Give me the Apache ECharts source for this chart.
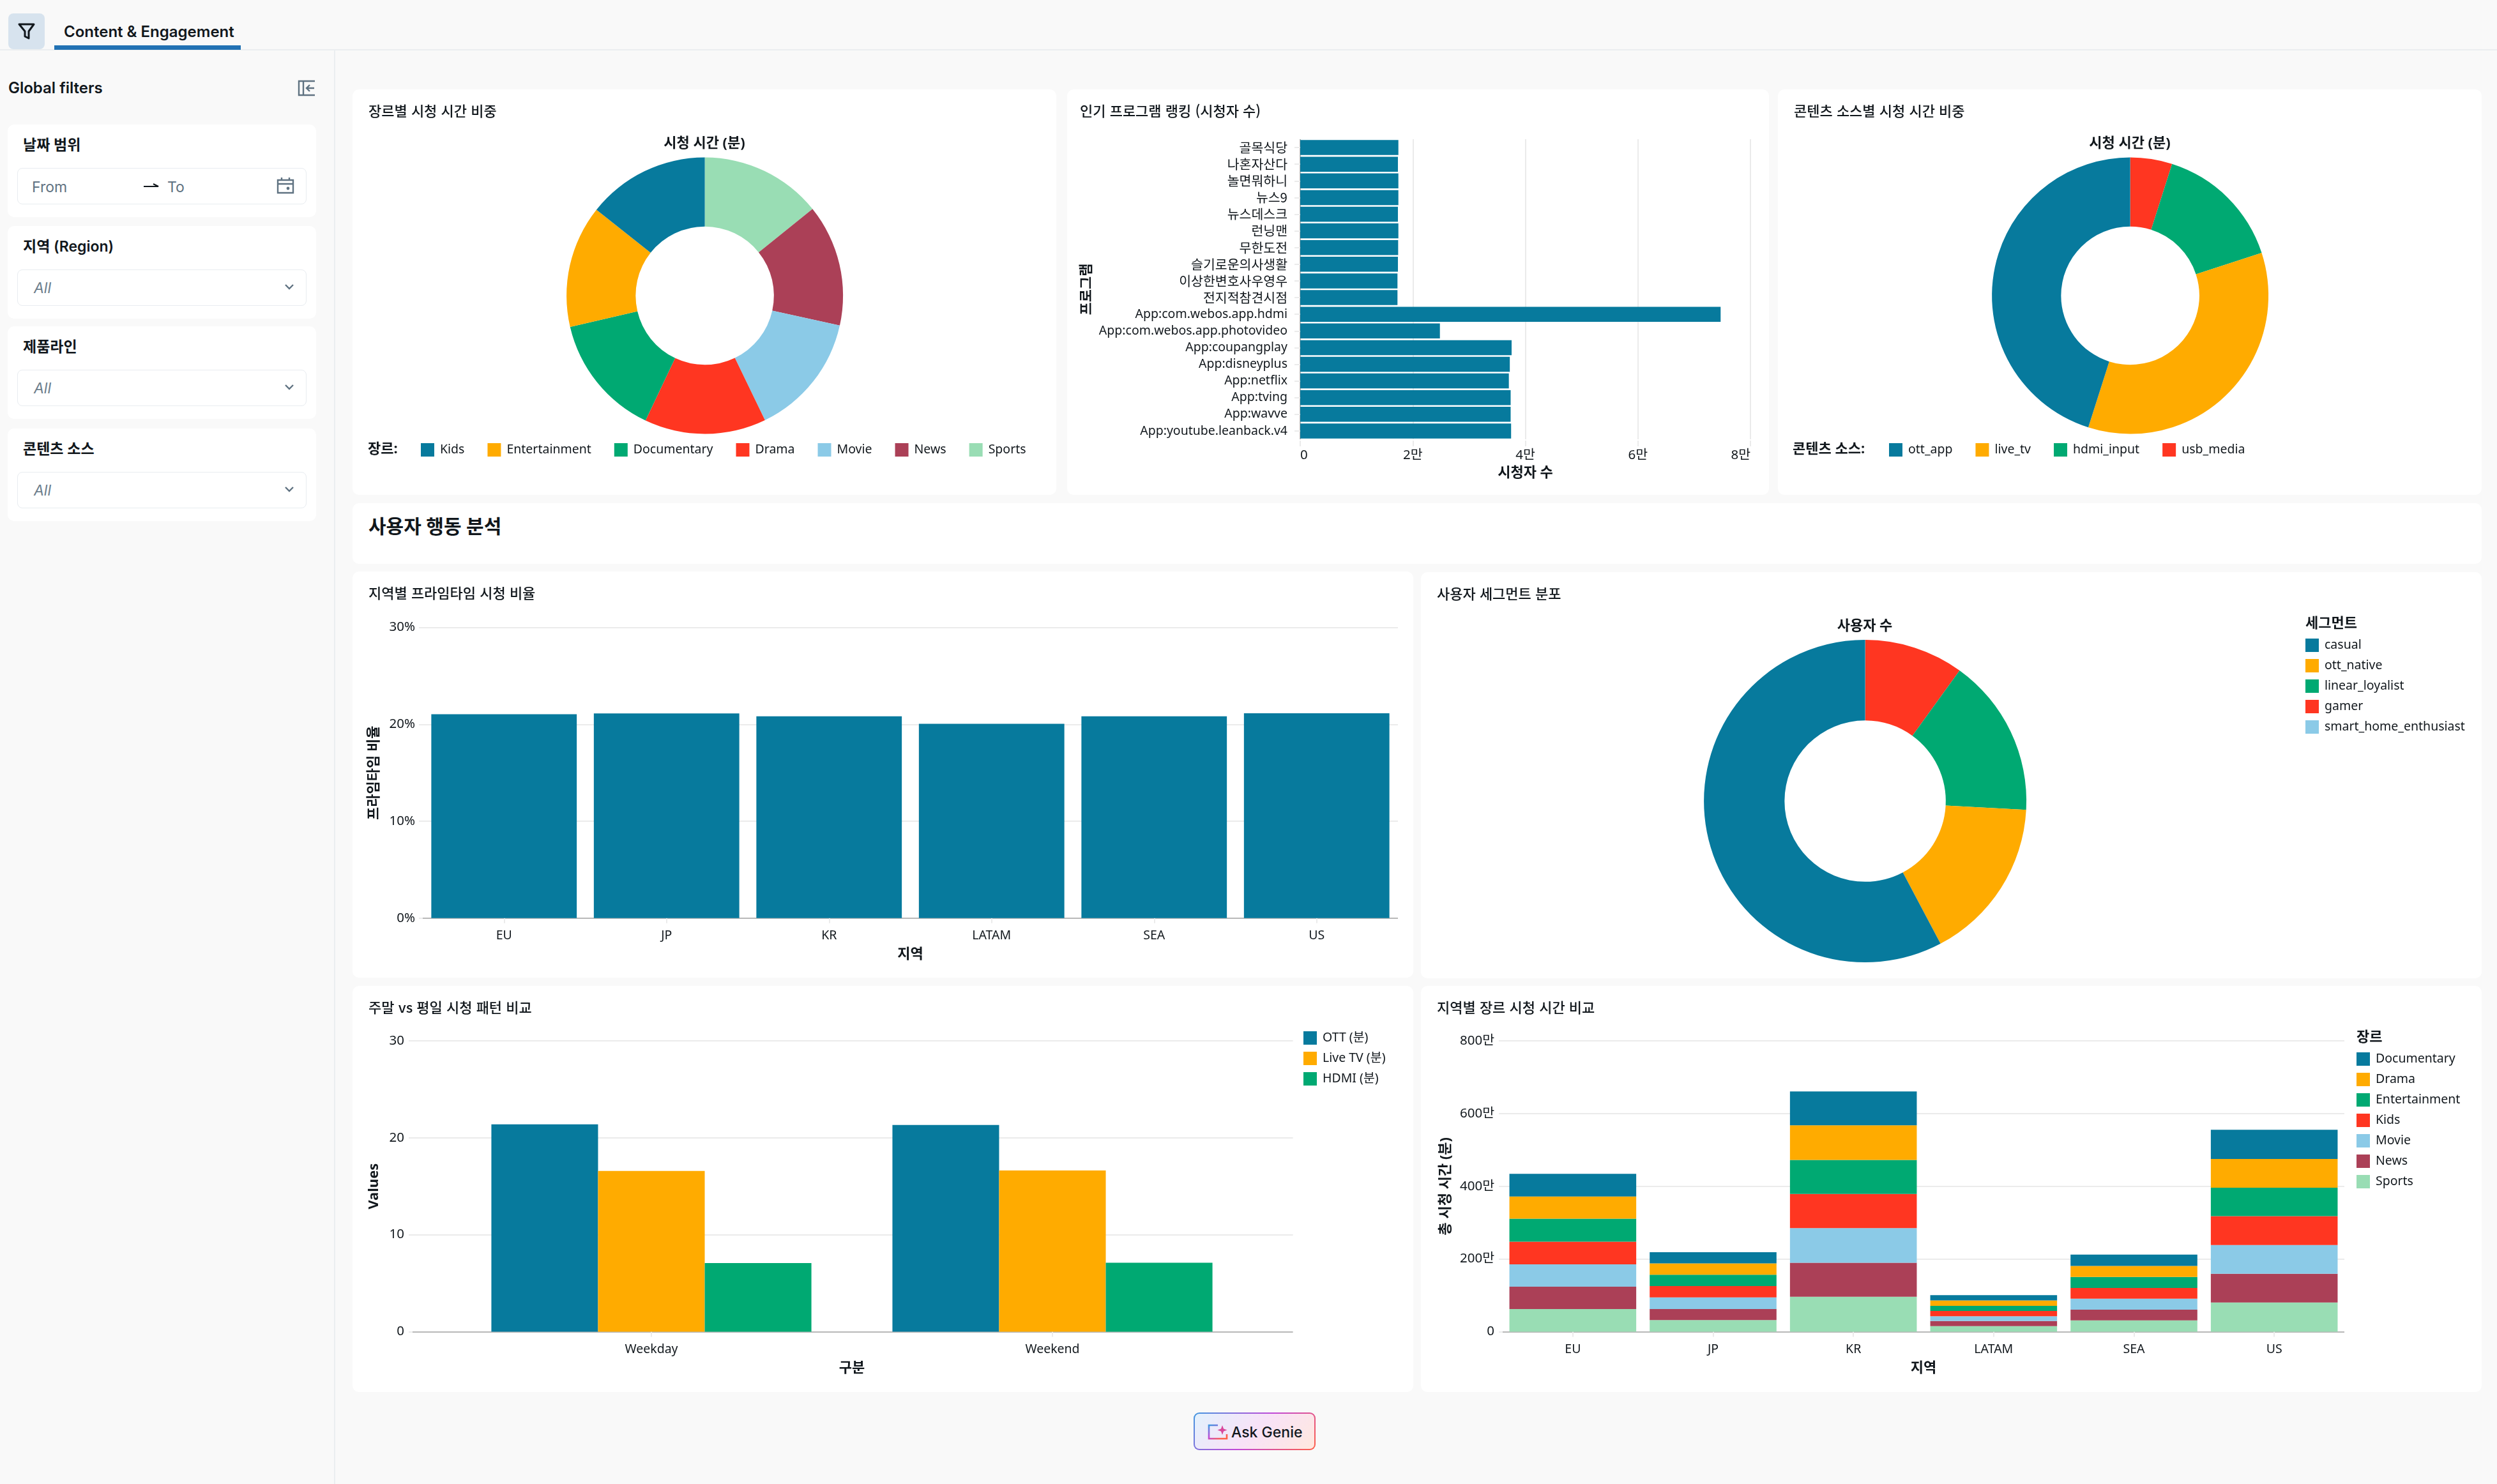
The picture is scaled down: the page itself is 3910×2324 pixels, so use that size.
<!DOCTYPE html>
<html lang="ko">
<head>
<meta charset="utf-8">
<title>Content &amp; Engagement</title>
<script src="https://cdn.jsdelivr.net/npm/echarts@6/dist/echarts.min.js"></script>
<style>
  html, body { margin: 0; padding: 0; width: 3910px; height: 2324px; overflow: hidden; background: #f9f9f9; }
  body, .abs { font-family: Inter, "Noto Sans CJK KR", sans-serif; color: #11171c; }
  .abs { position: absolute; box-sizing: border-box; }
  .card { background: #fff; border-radius: 10px; }
  .card-title { position: absolute; left: 25px; top: 16px; font-size: 22px; font-weight: 500; line-height: 32px; white-space: nowrap; font-family: "Noto Sans CJK KR", "Noto Sans", sans-serif; }
  .chart { position: absolute; left: 0; top: 0; width: 100%; height: 100%; }
  .filter { background: #fff; border-radius: 10px; left: 12px; width: 483px; height: 145px; }
  .filter-label { position: absolute; left: 24px; top: 16px; font-size: 23px; font-weight: 600; line-height: 32px; white-space: nowrap; }
  .filter-input { position: absolute; left: 15px; top: 68px; width: 453px; height: 57px; border: 1.5px solid #e8ecf0; border-radius: 8px; box-sizing: border-box; }
  .all { position: absolute; left: 25px; top: 13px; font-size: 23px; font-style: italic; color: #6b7d8b; line-height: 30px; }
  .chev { position: absolute; right: 18px; top: 20px; }
</style>
</head>
<body>
<div class="abs" style="left:0;top:77px;width:3910px;height:2px;background:#ebeef0"></div>
<div class="abs" style="left:523px;top:78px;width:2px;height:2246px;background:#ebeef0"></div>
<div class="abs" style="left:13px;top:21px;width:57px;height:56px;background:#d7e3ee;border-radius:8px">
  <svg width="57" height="56" viewBox="0 0 57 56"><path d="M17 17 H40 L32 28 V39 L26 36 V28 Z" fill="none" stroke="#11171c" stroke-width="3" stroke-linejoin="round"/></svg>
</div>
<div class="abs" style="left:100px;top:34px;font-size:24px;font-weight:600;line-height:32px;white-space:nowrap">Content &amp; Engagement</div>
<div class="abs" style="left:85px;top:71px;width:292px;height:7px;background:#2272b4"></div>
<div class="abs" style="left:13px;top:122px;font-size:24px;font-weight:600;line-height:32px;white-space:nowrap">Global filters</div>
<svg class="abs" style="left:466px;top:124px" width="28" height="28" viewBox="0 0 28 28"><path d="M27 3 H2 V25 H27 M9 3 V25 M26 14 H14 M19 9 L14 14 L19 19" fill="none" stroke="#5f7281" stroke-width="2.4"/></svg>

<div class="abs filter" style="top:195px">
  <div class="filter-label">날짜 범위</div>
  <div class="filter-input">
    <span class="abs" style="left:22px;top:14px;font-size:23px;line-height:30px;color:#5f7281">From</span>
    <svg class="abs" style="left:196px;top:18px" width="26" height="16" viewBox="0 0 26 16"><path d="M1 10 H24 L16 6" fill="none" stroke="#11171c" stroke-width="2"/></svg>
    <span class="abs" style="left:234px;top:14px;font-size:23px;line-height:30px;color:#5f7281">To</span>
    <svg class="abs" style="left:405px;top:12px" width="28" height="28" viewBox="0 0 28 28"><path d="M2 6 H26 V26 H2 Z M2 12 H26 M8 2 V6 M20 2 V6" fill="none" stroke="#5f7281" stroke-width="2.4"/><circle cx="18" cy="19" r="2.4" fill="#5f7281"/></svg>
  </div>
</div>
<div class="abs filter" style="top:354px">
  <div class="filter-label">지역 (Region)</div>
  <div class="filter-input"><span class="all">All</span><svg class="chev" width="16" height="12" viewBox="0 0 16 12"><path d="M2 3 L8 9 L14 3" fill="none" stroke="#5f7281" stroke-width="2.4"/></svg></div>
</div>
<div class="abs filter" style="top:511px">
  <div class="filter-label">제품라인</div>
  <div class="filter-input"><span class="all">All</span><svg class="chev" width="16" height="12" viewBox="0 0 16 12"><path d="M2 3 L8 9 L14 3" fill="none" stroke="#5f7281" stroke-width="2.4"/></svg></div>
</div>
<div class="abs filter" style="top:671px">
  <div class="filter-label">콘텐츠 소스</div>
  <div class="filter-input"><span class="all">All</span><svg class="chev" width="16" height="12" viewBox="0 0 16 12"><path d="M2 3 L8 9 L14 3" fill="none" stroke="#5f7281" stroke-width="2.4"/></svg></div>
</div>

<div class="abs card" style="left:552px;top:788px;width:3334px;height:95px">
  <div class="abs" style="left:25px;top:16px;font-size:30px;font-weight:600;line-height:40px;white-space:nowrap">사용자 행동 분석</div>
</div>

<div class="abs" style="left:1869px;top:2212px;width:191px;height:59px;border-radius:9px;padding:2px;background:linear-gradient(135deg,#4299e0 0%,#c048d8 50%,#ff5f46 100%)">
  <div style="width:100%;height:100%;border-radius:7px;background:linear-gradient(135deg,#e2f1fd 0%,#f8e2f7 50%,#ffe8de 100%);position:relative">
    <svg class="abs" style="left:20px;top:16px" width="34" height="28" viewBox="0 0 34 28">
      <defs><linearGradient id="genieFrame" x1="0" y1="0" x2="0.7" y2="1"><stop offset="0" stop-color="#4299e0"/><stop offset="0.6" stop-color="#c048d8"/><stop offset="1" stop-color="#ff5f46"/></linearGradient></defs>
      <path d="M16 2 H2 V23 H30 V16" fill="none" stroke="url(#genieFrame)" stroke-width="2.6"/>
      <path d="M23 2 L25 7.500 L30.500 9.500 L25 11.500 L23 17 L21 11.500 L15.500 9.500 L21 7.500 Z" fill="#d8479c"/>
    </svg>
    <span class="abs" style="left:57px;top:14px;font-size:23px;font-weight:500;line-height:30px;white-space:nowrap">Ask Genie</span>
  </div>
</div>

<script>
// 장르별 시청 시간 비중 (share of watch time, %)
const genreLegend = ['Kids', 'Entertainment', 'Documentary', 'Drama', 'Movie', 'News', 'Sports'];
const genreShareNames = ['Sports', 'News', 'Movie', 'Drama', 'Documentary', 'Entertainment', 'Kids'];
const genreShareValues = [14.22, 14.25, 14.36, 14.22, 14.31, 14.31, 14.33];
const genreShareColors = ['#99ddb4', '#ab4057', '#8bcae7', '#ff3621', '#00a972', '#ffab00', '#077a9d'];

// 인기 프로그램 랭킹 (viewers)
const programNames = ['골목식당', '나혼자산다', '놀면뭐하니', '뉴스9', '뉴스데스크', '런닝맨', '무한도전', '슬기로운의사생활',
  '이상한변호사우영우', '전지적참견시점', 'App:com.webos.app.hdmi', 'App:com.webos.app.photovideo', 'App:coupangplay',
  'App:disneyplus', 'App:netflix', 'App:tving', 'App:wavve', 'App:youtube.leanback.v4'];
const programViewers = [17440, 17360, 17440, 17440, 17360, 17440, 17400, 17360, 17280, 17280,
  74700, 24820, 37560, 37240, 37070, 37390, 37390, 37470];

// 콘텐츠 소스별 시청 시간 비중 (%)
const sourceLegend = ['ott_app', 'live_tv', 'hdmi_input', 'usb_media'];
const sourceNames = ['usb_media', 'hdmi_input', 'live_tv', 'ott_app'];
const sourceValues = [4.9, 15.1, 34.9, 45.1];
const sourceColors = ['#ff3621', '#00a972', '#ffab00', '#077a9d'];

// 지역별 프라임타임 시청 비율 (%)
const regions = ['EU', 'JP', 'KR', 'LATAM', 'SEA', 'US'];
const primeTimeShare = [21.05, 21.12, 20.83, 20.06, 20.83, 21.15];

// 사용자 세그먼트 분포 (%)
const segmentLegend = ['casual', 'ott_native', 'linear_loyalist', 'gamer', 'smart_home_enthusiast'];
const segmentNames = ['smart_home_enthusiast', 'gamer', 'linear_loyalist', 'ott_native', 'casual'];
const segmentValues = [0.02, 9.94, 15.9, 16.4, 57.74];
const segmentColors = ['#8bcae7', '#ff3621', '#00a972', '#ffab00', '#077a9d'];

// 주말 vs 평일 시청 패턴 비교
const dayTypes = ['Weekday', 'Weekend'];
const ottMinutes = [21.39, 21.32];
const liveTvMinutes = [16.58, 16.62];
const hdmiMinutes = [7.07, 7.11];

// 지역별 장르 시청 시간 (total minutes)
const stackLegend = ['Documentary', 'Drama', 'Entertainment', 'Kids', 'Movie', 'News', 'Sports'];
const sportsByRegion = [623000, 320000, 961000, 151000, 311000, 801000];
const newsByRegion = [614000, 303000, 934000, 142000, 294000, 792000];
const movieByRegion = [614000, 320000, 952000, 133000, 303000, 792000];
const kidsByRegion = [623000, 311000, 943000, 142000, 294000, 792000];
const entertainmentByRegion = [632000, 311000, 934000, 142000, 303000, 783000];
const dramaByRegion = [614000, 311000, 952000, 151000, 303000, 792000];
const documentaryByRegion = [623000, 311000, 934000, 142000, 311000, 801000];

const BLUE = '#077a9d', AMBER = '#ffab00', GREEN = '#00a972', RED = '#ff3621', SKY = '#8bcae7', WINE = '#ab4057', MINT = '#99ddb4';
const INK = '#11171c', GRID = '#ebebeb', BASE = '#b8b8b8';
const FONT = '"Noto Sans", "Noto Sans CJK KR", sans-serif';
const LABEL = { fontFamily: FONT, fontSize: 19.5, color: INK };
const TICK = { fontFamily: FONT, fontSize: 20.5, color: INK };
const NAME = { fontFamily: FONT, fontSize: 22, fontWeight: 700, color: INK };
// First split line is the zero baseline, the others stay faint.
const SPLIT = { lineStyle: { color: [BASE, GRID, GRID, GRID, GRID], width: 2 } };

// Creates a white card at page coordinates and an ECharts instance that fills it.
function makeCard(x, y, w, h, title, titleLeft) {
  const card = document.createElement('div');
  card.className = 'abs card';
  card.style.cssText = `left:${x}px;top:${y}px;width:${w}px;height:${h}px`;
  const holder = document.createElement('div');
  holder.className = 'chart';
  card.appendChild(holder);
  const heading = document.createElement('div');
  heading.className = 'card-title';
  if (titleLeft) heading.style.left = titleLeft + 'px';
  heading.textContent = title;
  card.appendChild(heading);
  document.body.appendChild(card);
  return echarts.init(holder, null, { width: w, height: h });
}

function caption(text, left, top, align) {
  return { text, left, top, textAlign: align || 'left', padding: 0,
    textStyle: Object.assign({ lineHeight: 26 }, NAME) };
}

function legendBase(extra) {
  return Object.assign({ icon: 'rect', itemWidth: 21, itemHeight: 21, padding: 0, selectedMode: false,
    textStyle: Object.assign({ padding: [0, 0, 0, 4] }, LABEL),
    itemStyle: { borderWidth: 0 } }, extra);
}

function donut(cx, cy, r, names, values, colors) {
  return { type: 'pie', center: [cx, cy], radius: [r / 2, r], startAngle: 90, silent: true,
    label: { show: false }, labelLine: { show: false }, itemStyle: { borderWidth: 0 },
    data: names.map((name, i) => ({ name, value: values[i], itemStyle: { color: colors[i] } })) };
}

// Plot rectangle in page coordinates, kept fixed whatever the axis labels measure.
function plot(X, Y, W, H, left, right, top, bottom) {
  return { left: left - X, right: X + W - right, top: top - Y, bottom: Y + H - bottom, outerBoundsMode: 'none' };
}

// Category axis set slightly away from the plot: its ticks float under the baseline.
function catAxis(data, extra) {
  return Object.assign({ type: 'category', data, offset: 7, axisLine: { show: false },
    axisTick: { show: true, length: 8, alignWithLabel: true, lineStyle: { color: GRID, width: 2 } },
    axisLabel: Object.assign({ margin: 11, interval: 0 }, LABEL),
    nameLocation: 'middle', nameTextStyle: NAME }, extra);
}

function valAxis(extra) {
  return Object.assign({ type: 'value', axisLine: { show: false },
    axisTick: { show: true, length: 6, lineStyle: { color: GRID, width: 2 } },
    splitLine: SPLIT,
    axisLabel: Object.assign({ margin: 8 }, TICK),
    nameLocation: 'middle', nameTextStyle: NAME }, extra);
}

const tenThousand = v => v === 0 ? '0' : (v / 10000) + '만';
// Korean program names run a little larger than the Latin ones.
const programLabel = v => /[가-힣]/.test(v) ? `{ko|${v}}` : v;

// Donut: genre share of watch time
{
  const X = 552, Y = 140;
  const chart = makeCard(X, Y, 1102, 635, '장르별 시청 시간 비중');
  chart.setOption({ animation: false,
    title: [caption('시청 시간 (분)', 1103 - X, 212 - Y, 'center'), caption('장르:', 576 - X, 691 - Y)],
    legend: legendBase({ left: 659 - X, top: 694 - Y, itemGap: 36, data: genreLegend }),
    series: [donut(1103.6 - X, 463 - Y, 216.5, genreShareNames, genreShareValues, genreShareColors)] });
}

// Horizontal bars: program ranking by viewers
{
  const X = 1671, Y = 140;
  const chart = makeCard(X, Y, 1099, 635, '인기 프로그램 랭킹 (시청자 수)', 20);
  chart.setOption({ animation: false,
    grid: plot(X, Y, 1099, 635, 2036, 2741, 218, 688),
    xAxis: valAxis({ min: 0, max: 80000, interval: 20000, offset: 2, name: '시청자 수', nameGap: 40,
      axisTick: { show: true, length: 9, lineStyle: { color: GRID, width: 2 } },
      axisLabel: Object.assign({ margin: 13, formatter: tenThousand, alignMinLabel: 'left', alignMaxLabel: 'right' }, TICK) }),
    yAxis: catAxis(programNames, { inverse: true, offset: 6, name: '프로그램', nameGap: 317, nameMoveOverlap: false,
      axisTick: { show: true, length: 9, alignWithLabel: true, lineStyle: { color: GRID, width: 2 } },
      axisLabel: Object.assign({ margin: 14, interval: 0, formatter: programLabel,
        rich: { ko: { fontFamily: '"Noto Sans CJK KR"', fontSize: 20.5, color: INK } } }, LABEL) }),
    series: [{ type: 'bar', data: programViewers, barCategoryGap: '10%', itemStyle: { color: BLUE }, silent: true }] });
}

// Donut: share of watch time by content source
{
  const X = 2784, Y = 140;
  const chart = makeCard(X, Y, 1102, 635, '콘텐츠 소스별 시청 시간 비중');
  chart.setOption({ animation: false,
    title: [caption('시청 시간 (분)', 3335 - X, 212 - Y, 'center'), caption('콘텐츠 소스:', 2807 - X, 691 - Y)],
    legend: legendBase({ left: 2958 - X, top: 694 - Y, itemGap: 36, data: sourceLegend }),
    series: [donut(3335.6 - X, 463 - Y, 216.5, sourceNames, sourceValues, sourceColors)] });
}

// Columns: prime-time share per region
{
  const X = 552, Y = 895;
  const chart = makeCard(X, Y, 1661, 636, '지역별 프라임타임 시청 비율');
  chart.setOption({ animation: false,
    grid: plot(X, Y, 1661, 636, 662, 2189, 982.6, 1437.8),
    xAxis: catAxis(regions, { name: '지역', nameGap: 39 }),
    yAxis: valAxis({ min: 0, max: 30, interval: 10, name: '프라임타임 비율', nameGap: 65,
      axisLabel: Object.assign({ margin: 12, formatter: '{value}%' }, TICK) }),
    series: [{ type: 'bar', data: primeTimeShare, barCategoryGap: '10.5%', itemStyle: { color: BLUE }, silent: true }] });
}

// Donut: user segment distribution
{
  const X = 2225, Y = 896;
  const chart = makeCard(X, Y, 1661, 636, '사용자 세그먼트 분포');
  chart.setOption({ animation: false,
    title: [caption('사용자 수', 2920 - X, 968 - Y, 'center'), caption('세그먼트', 3610 - X, 964 - Y)],
    legend: legendBase({ orient: 'vertical', left: 3610 - X, top: 1000 - Y, itemGap: 11, data: segmentLegend }),
    series: [donut(2920.6 - X, 1254.6 - Y, 252.5, segmentNames, segmentValues, segmentColors)] });
}

// Grouped columns: weekday vs weekend. The first grid carries the value scale, the second the bars.
{
  const X = 552, Y = 1544;
  const chart = makeCard(X, Y, 1661, 636, '주말 vs 평일 시청 패턴 비교');
  const group = (name, data, color) => ({ type: 'bar', name, data, xAxisIndex: 1, yAxisIndex: 1, barGap: 0,
    barCategoryGap: '20.2%', itemStyle: { color }, silent: true });
  chart.setOption({ animation: false,
    legend: legendBase({ orient: 'vertical', left: 2041 - X, top: 1615 - Y, itemGap: 11, data: ['OTT (분)', 'Live TV (분)', 'HDMI (분)'] }),
    grid: [plot(X, Y, 1661, 636, 646, 2024.6, 1630, 2085.4), plot(X, Y, 1661, 636, 706, 1962, 1630, 2085.4)],
    xAxis: [
      catAxis([''], { gridIndex: 0, axisLabel: { show: false }, axisTick: { show: false } }),
      catAxis(dayTypes, { gridIndex: 1, name: '구분', nameGap: 39 })
    ],
    yAxis: [
      valAxis({ gridIndex: 0, min: 0, max: 30, interval: 10, name: 'Values', nameGap: 49,
        axisLabel: Object.assign({ margin: 13 }, TICK) }),
      valAxis({ gridIndex: 1, min: 0, max: 30, interval: 10, show: false, splitLine: { show: false } })
    ],
    series: [group('OTT (분)', ottMinutes, BLUE), group('Live TV (분)', liveTvMinutes, AMBER), group('HDMI (분)', hdmiMinutes, GREEN)] });
}

// Stacked columns: genre watch time per region
{
  const X = 2225, Y = 1544;
  const chart = makeCard(X, Y, 1661, 636, '지역별 장르 시청 시간 비교');
  const layer = (name, data, color) => ({ type: 'bar', name, data, stack: 'genre', barCategoryGap: '9.6%', itemStyle: { color }, silent: true });
  chart.setOption({ animation: false,
    title: caption('장르', 3690 - X, 1612 - Y),
    legend: legendBase({ orient: 'vertical', left: 3690 - X, top: 1648 - Y, itemGap: 11, data: stackLegend }),
    grid: plot(X, Y, 1661, 636, 2353, 3671, 1630, 2085.4),
    xAxis: catAxis(regions, { name: '지역', nameGap: 39 }),
    yAxis: valAxis({ min: 0, max: 8000000, interval: 2000000, name: '총 시청 시간 (분)', nameGap: 78,
      axisLabel: Object.assign({ margin: 13, formatter: tenThousand }, TICK) }),
    series: [layer('Sports', sportsByRegion, MINT), layer('News', newsByRegion, WINE), layer('Movie', movieByRegion, SKY),
      layer('Kids', kidsByRegion, RED), layer('Entertainment', entertainmentByRegion, GREEN), layer('Drama', dramaByRegion, AMBER),
      layer('Documentary', documentaryByRegion, BLUE)] });
}
</script>
</body>
</html>
